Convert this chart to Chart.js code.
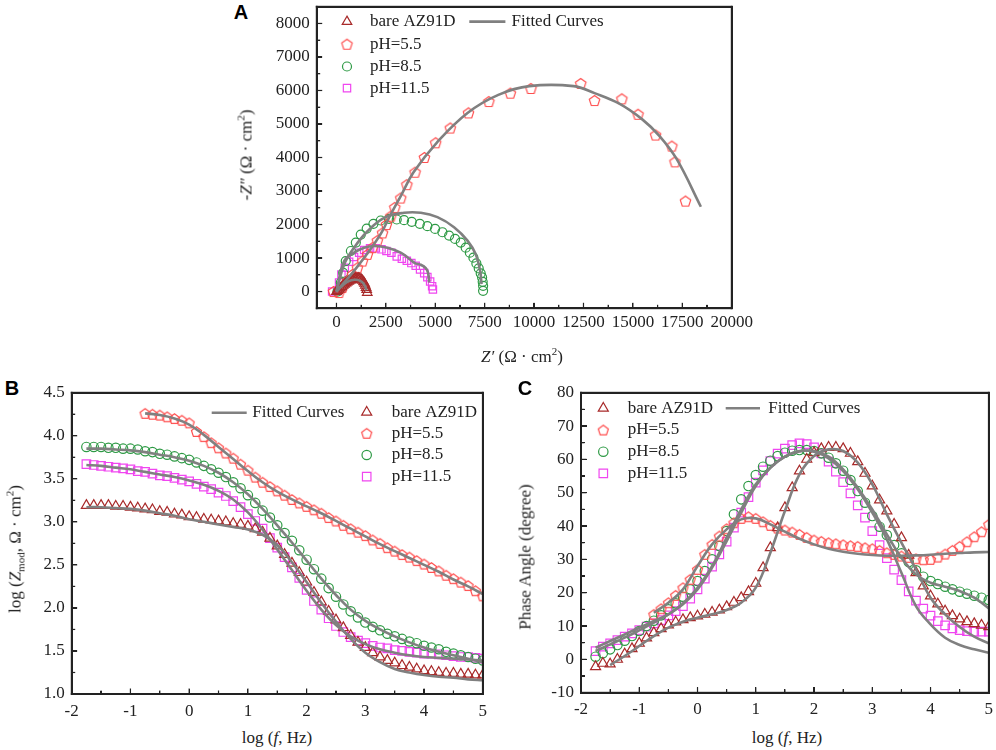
<!DOCTYPE html>
<html>
<head>
<meta charset="utf-8">
<script src="https://cdn.jsdelivr.net/npm/chart.js@4.4.1/dist/chart.umd.min.js"></script>
<style>
  body { margin: 0; background: #fff; width: 996px; height: 750px; position: relative; overflow: hidden; }
  canvas { position: absolute; }
  .lbl { position: absolute; font-family: "Liberation Serif", "Times New Roman", serif; font-size: 17px; color: #222;
         white-space: nowrap; transform: translate(-50%, -50%); line-height: 1; }
  .rot { transform: translate(-50%, -50%) rotate(-90deg); }
  .lbl sup, .lbl sub { font-size: 11px; line-height: 0; }
  .panel { position: absolute; font-family: "Liberation Sans", Arial, sans-serif; font-weight: bold; font-size: 20px;
           color: #000; transform: translate(-50%, -50%); line-height: 1; }
  .bar { position: absolute; background: #222; pointer-events: none; }
</style>
</head>
<body>
<canvas id="chartA" width="520" height="340" style="left:250px;top:0px"></canvas>
<canvas id="chartB" width="470" height="345" style="left:20px;top:380px"></canvas>
<canvas id="chartC" width="466" height="345" style="left:530px;top:380px"></canvas>

<div class="panel" style="left:241px;top:12px">A</div>
<div class="panel" style="left:12px;top:388px">B</div>
<div class="panel" style="left:525px;top:388px">C</div>

<div class="lbl rot" style="left:246px;top:155px"><i>-Z″</i> (Ω · cm<sup>2</sup>)</div>
<div class="lbl" style="left:522px;top:356px"><i>Z′</i> (Ω · cm<sup>2</sup>)</div>
<div class="lbl rot" style="left:15px;top:549px">log (<i>Z</i><sub>mod</sub>, Ω · cm<sup>2</sup>)</div>
<div class="lbl" style="left:277px;top:737px">log (<i>f</i>, Hz)</div>
<div class="lbl rot" style="left:525px;top:557px">Phase Angle (degree)</div>
<div class="lbl" style="left:787px;top:737px">log (<i>f</i>, Hz)</div>

<script>
// ---- Nyquist (panel A), ohm.cm2 ----
const nyqBareX = [0, 60, 130, 200, 270, 340, 410, 480, 550, 620, 690, 760, 830, 900, 970, 1040, 1110, 1180, 1250, 1310, 1370, 1420, 1460, 1500, 1530, 1560];
const nyqBareY = [0, 30, 65, 100, 140, 180, 215, 250, 280, 305, 330, 350, 370, 385, 395, 400, 398, 388, 365, 330, 290, 240, 180, 115, 55, -30];
const nyq55X = [-150, 130, 300, 560, 810, 1060, 1320, 1570, 1820, 2070, 2330, 2530, 2750, 2950, 3250, 3560, 3980, 4450, 5020, 5760, 6680, 7710, 8800, 9840, 12360, 13060, 14440, 15260, 16150, 16970, 17130, 17660];
const nyq55Y = [0, -30, 120, 320, 510, 710, 910, 1110, 1310, 1520, 1750, 2000, 2250, 2510, 2790, 3190, 3560, 4000, 4440, 4880, 5330, 5670, 5920, 6060, 6210, 5700, 5750, 5290, 4670, 4340, 3870, 2700];
const nyq85X = [50, 220, 340, 470, 730, 980, 1230, 1530, 1870, 2240, 2660, 3050, 3420, 3810, 4220, 4600, 4990, 5360, 5700, 6000, 6290, 6540, 6750, 6930, 7080, 7200, 7300, 7370, 7400, 7420, 7420];
const nyq85Y = [0, 270, 560, 910, 1210, 1460, 1700, 1880, 2020, 2120, 2170, 2150, 2130, 2080, 2020, 1950, 1870, 1770, 1670, 1570, 1460, 1310, 1160, 1010, 840, 690, 540, 420, 290, 170, 20];
const nyq115X = [-220, 50, 130, 250, 420, 640, 890, 1150, 1400, 1700, 1990, 2280, 2530, 2780, 3050, 3310, 3560, 3790, 4010, 4230, 4440, 4600, 4740, 4840, 4880];
const nyq115Y = [0, 20, 270, 510, 710, 890, 1030, 1160, 1240, 1290, 1290, 1260, 1210, 1160, 1050, 980, 920, 850, 770, 660, 550, 430, 300, 160, 60];

const fitBareX = [0, 250, 500, 750, 1000, 1200, 1350, 1450, 1520];
const fitBareY = [0, 150, 270, 340, 350, 320, 250, 150, 40];
const fit55X = [0, 1000, 1800, 2300, 2700, 3300, 3900, 5070, 6630, 8190, 9760, 12000, 13060, 14270, 15490, 16350, 17220, 18440];
const fit55Y = [0, 700, 1330, 1780, 2250, 2900, 3560, 4440, 5330, 5870, 6130, 6130, 5920, 5620, 5130, 4640, 3950, 2530];
const fit85X = [0, 390, 890, 1570, 2410, 3420, 4270, 5110, 5950, 6630, 7050, 7270, 7340];
const fit85Y = [0, 810, 1310, 1800, 2200, 2350, 2350, 2220, 1920, 1520, 1110, 610, 220];
const fit115X = [0, 390, 890, 1400, 1910, 2580, 3250, 3680, 3960, 4270, 4520, 4640, 4690];
const fit115Y = [0, 910, 1160, 1310, 1360, 1310, 1160, 980, 850, 800, 700, 550, 270];

// ---- Bode (panels B, C): log f grid ----
const logF = [-1.75, -1.625, -1.5, -1.375, -1.25, -1.125, -1.0, -0.875, -0.75, -0.625, -0.5, -0.375, -0.25, -0.125, 0,
  0.125, 0.25, 0.375, 0.5, 0.625, 0.75, 0.875, 1.0, 1.125, 1.25, 1.375, 1.5, 1.625, 1.75, 1.875, 2.0,
  2.125, 2.25, 2.375, 2.5, 2.625, 2.75, 2.875, 3.0, 3.125, 3.25, 3.375, 3.5, 3.625, 3.75, 3.875, 4.0,
  4.125, 4.25, 4.375, 4.5, 4.625, 4.75, 4.875, 5.0];
const logF55 = logF.slice(8); // pH 5.5 starts at about -0.75
const logFfit = [-1.75, -1.5, -1.25, -1.0, -0.75, -0.5, -0.25, 0, 0.25, 0.5, 0.75, 1.0, 1.25, 1.5, 1.75, 2.0,
  2.25, 2.5, 2.75, 3.0, 3.25, 3.5, 3.75, 4.0, 4.25, 4.5, 4.75, 5.0];

// log |Z|
const zBare = [3.19, 3.19, 3.19, 3.19, 3.18, 3.18, 3.17, 3.16, 3.15, 3.14, 3.12, 3.11, 3.09, 3.08, 3.06,
  3.05, 3.03, 3.02, 3.01, 3.00, 2.98, 2.97, 2.95, 2.92, 2.88, 2.81, 2.72, 2.62, 2.52, 2.41, 2.30,
  2.18, 2.07, 1.96, 1.86, 1.77, 1.68, 1.60, 1.54, 1.48, 1.43, 1.39, 1.36, 1.33, 1.31, 1.29, 1.27,
  1.26, 1.25, 1.24, 1.24, 1.23, 1.23, 1.22, 1.22];
const z55 = [4.26, 4.25, 4.24, 4.22, 4.20, 4.18, 4.15,
  4.05, 3.99, 3.92, 3.86, 3.80, 3.74, 3.67, 3.60, 3.52, 3.46, 3.41, 3.36, 3.31, 3.26, 3.22, 3.18,
  3.14, 3.10, 3.05, 3.01, 2.96, 2.92, 2.88, 2.84, 2.79, 2.75, 2.70, 2.66, 2.62, 2.59, 2.55, 2.51,
  2.47, 2.43, 2.38, 2.34, 2.30, 2.26, 2.20, 2.14];
const z85 = [3.87, 3.87, 3.87, 3.86, 3.86, 3.85, 3.85, 3.84, 3.82, 3.81, 3.79, 3.78, 3.76, 3.74, 3.72,
  3.69, 3.65, 3.61, 3.57, 3.52, 3.46, 3.39, 3.31, 3.22, 3.13, 3.05, 2.96, 2.87, 2.78, 2.67, 2.56,
  2.45, 2.34, 2.23, 2.13, 2.04, 1.96, 1.89, 1.83, 1.78, 1.74, 1.70, 1.67, 1.64, 1.61, 1.59, 1.56,
  1.54, 1.52, 1.49, 1.47, 1.45, 1.43, 1.41, 1.39];
const z115 = [3.67, 3.66, 3.65, 3.64, 3.63, 3.62, 3.61, 3.59, 3.58, 3.56, 3.54, 3.53, 3.51, 3.49, 3.47,
  3.44, 3.41, 3.38, 3.34, 3.30, 3.24, 3.17, 3.09, 3.01, 2.92, 2.81, 2.70, 2.59, 2.47, 2.35, 2.21,
  2.08, 1.98, 1.88, 1.79, 1.72, 1.66, 1.62, 1.59, 1.56, 1.54, 1.53, 1.51, 1.50, 1.49, 1.48, 1.47,
  1.47, 1.46, 1.45, 1.44, 1.43, 1.43, 1.42, 1.41];
const zFitBare = [3.17, 3.17, 3.16, 3.15, 3.13, 3.10, 3.07, 3.03, 3.00, 2.97, 2.94, 2.91, 2.85, 2.73, 2.53, 2.30,
  2.06, 1.84, 1.64, 1.48, 1.37, 1.29, 1.25, 1.22, 1.20, 1.19, 1.17, 1.16];
const zFit55 = [4.26, 4.24, 4.20, 4.13, 4.01, 3.87, 3.73, 3.59, 3.46, 3.35, 3.26, 3.18,
  3.10, 3.01, 2.92, 2.83, 2.74, 2.66, 2.58, 2.50, 2.42, 2.33, 2.25, 2.16];
const zFit85 = [3.85, 3.85, 3.84, 3.83, 3.81, 3.78, 3.75, 3.71, 3.65, 3.57, 3.46, 3.32, 3.15, 2.96, 2.76, 2.55,
  2.34, 2.15, 1.98, 1.85, 1.75, 1.67, 1.60, 1.54, 1.49, 1.45, 1.41, 1.37];
const zFit115 = [3.66, 3.65, 3.63, 3.61, 3.58, 3.55, 3.52, 3.48, 3.43, 3.36, 3.26, 3.11, 2.91, 2.68, 2.44, 2.20,
  1.98, 1.80, 1.67, 1.58, 1.52, 1.48, 1.45, 1.43, 1.42, 1.41, 1.40, 1.39];

// phase angle, degree
const phBare = [-2.2, -1.2, -1.4, 0.0, 1.6, 3.2, 4.8, 6.4, 8.0, 9.2, 10.3, 11.2, 11.9, 12.5, 13.0,
  13.5, 14.1, 14.8, 15.8, 17.1, 18.5, 20.3, 22.8, 27.5, 33.5, 39.5, 45.5, 51.5, 56.5, 60.0, 62.0,
  63.2, 63.6, 63.6, 63.2, 61.8, 59.3, 55.8, 52.0, 47.8, 44.5, 40.5, 36.5, 31.2, 26.0, 22.0, 19.0,
  16.6, 14.5, 13.1, 12.1, 11.3, 10.7, 10.2, 9.8];
const ph55 = [13.5, 15.2, 17.0, 19.2, 21.5, 24.0, 27.0,
  31.5, 34.5, 37.0, 39.2, 41.0, 42.3, 42.8, 42.3, 41.3, 40.2, 39.4, 38.8, 38.2, 37.5, 36.6, 35.8,
  35.4, 35.0, 34.7, 34.4, 34.1, 33.9, 33.5, 33.2, 32.7, 32.0, 31.5, 31.0, 30.6, 30.2, 29.9, 30.0,
  30.7, 31.6, 32.7, 33.9, 35.3, 36.8, 38.3, 40.5];
const ph85 = [0.8, 1.8, 3.0, 4.3, 5.6, 7.0, 8.5, 10.0, 11.6, 13.2, 15.0, 16.8, 18.8, 21.0, 23.5,
  26.5, 30.0, 34.0, 38.5, 43.5, 48.0, 52.0, 55.3, 57.8, 59.6, 61.0, 62.0, 62.6, 62.8, 62.8, 62.5,
  61.8, 60.5, 58.8, 56.6, 53.8, 50.5, 47.0, 43.0, 39.8, 37.3, 34.3, 31.8, 29.2, 26.7, 24.8, 23.5,
  22.6, 21.8, 21.0, 20.3, 19.7, 19.1, 18.5, 17.8];
const ph115 = [2.5, 3.8, 4.8, 5.8, 6.8, 7.8, 8.8, 9.8, 10.8, 11.8, 13.2, 14.5, 16.0, 18.2, 21.0,
  24.2, 27.8, 31.5, 35.3, 39.5, 44.0, 48.7, 53.0, 56.7, 59.5, 61.7, 63.2, 64.3, 64.8, 64.6, 63.6,
  61.8, 59.3, 56.3, 53.2, 49.8, 46.2, 42.5, 38.5, 34.3, 30.4, 26.9, 23.8, 20.4, 17.6, 15.2, 13.1,
  11.5, 10.2, 9.3, 8.8, 8.5, 8.3, 8.3, 8.3];
const phFitBare = [-1.7, 1.0, 4.0, 7.0, 9.5, 11.3, 12.5, 13.5, 14.8, 17.0, 21.5, 32.0, 44.5, 55.5, 61.0,
  63.0, 62.5, 59.0, 52.5, 43.5, 35.0, 27.0, 18.5, 13.5, 9.7, 6.8, 4.8]; // from log f = -1.5
const phFit55 = [14.0, 17.0, 21.0, 28.0, 34.5, 39.0, 42.0, 42.3, 40.5, 38.3, 36.2, 34.5,
  33.2, 32.3, 31.7, 31.3, 31.1, 31.1, 31.2, 31.4, 31.7, 31.9, 32.1, 32.2];
const phFit85 = [2.5, 4.5, 6.5, 8.7, 11.0, 13.5, 16.8, 21.5, 28.0, 36.5, 45.0, 52.5, 57.5, 60.8, 62.4, 62.5,
  60.8, 57.0, 51.5, 45.0, 37.5, 30.5, 25.5, 23.0, 21.8, 20.5, 18.5, 15.3];
const phFit115 = [3.5, 5.5, 7.5, 9.5, 11.5, 13.5, 16.5, 21.0, 27.5, 35.5, 44.0, 52.0, 57.5, 60.8, 62.5, 62.3,
  60.3, 56.5, 51.0, 44.0, 36.0, 26.0, 16.0, 10.5, 6.5, 4.3, 3.0, 2.0];

// ticks (labelled ones; minor ticks sit half-way between)
const nyqXTicks = [0, 2500, 5000, 7500, 10000, 12500, 15000, 17500, 20000];
const nyqYTicks = [0, 1000, 2000, 3000, 4000, 5000, 6000, 7000, 8000];
const freqTicks = [-2, -1, 0, 1, 2, 3, 4, 5];
const modTicks = [1.0, 1.5, 2.0, 2.5, 3.0, 3.5, 4.0, 4.5];
const phaseTicks = [-10, 0, 10, 20, 30, 40, 50, 60, 70, 80];

const seriesNames = ['bare AZ91D', 'pH=5.5', 'pH=8.5', 'pH=11.5'];
const colors = ['#a82a2a', '#ff4f4f', '#2e9a45', '#f046f0'];
const fitColor = '#808080';
const axisColor = '#222';
const serif = '"Liberation Serif", "Times New Roman", serif';

function pts(xs, ys) { return ys.map((y, i) => ({ x: xs[i], y: y })); }

function pentagon(color, r) {
  const s = Math.ceil(2 * r + 4);
  const c = document.createElement('canvas');
  c.width = s; c.height = s;
  const g = c.getContext('2d');
  g.strokeStyle = color; g.lineWidth = 1.2;
  g.beginPath();
  for (let k = 0; k < 5; k++) {
    const a = -Math.PI / 2 + k * 2 * Math.PI / 5;
    const px = s / 2 + r * Math.cos(a), py = s / 2 + r * Math.sin(a) + 0.1 * r;
    if (k) g.lineTo(px, py); else g.moveTo(px, py);
  }
  g.closePath(); g.stroke();
  return c;
}

// marker styles per panel: [triangle, pentagon, circle, rect] radii
function markers(rs) {
  return [
    { style: 'triangle', r: rs[0] },
    { style: pentagon(colors[1], rs[1]), r: rs[1] },
    { style: 'circle', r: rs[2] },
    { style: 'rect', r: rs[3] }
  ];
}

function drawMark(ctx, m, color, x, y) {
  ctx.save();
  ctx.strokeStyle = color; ctx.lineWidth = 1.2;
  if (typeof m.style !== 'string') {
    ctx.drawImage(m.style, x - m.style.width / 2, y - m.style.height / 2);
  } else {
    ctx.beginPath();
    if (m.style === 'circle') ctx.arc(x, y, m.r, 0, Math.PI * 2);
    else if (m.style === 'rect') { const h = m.r * Math.SQRT1_2; ctx.rect(x - h, y - h, 2 * h, 2 * h); }
    else {
      for (let k = 0; k < 3; k++) {
        const a = k * 2 * Math.PI / 3;
        const px = x + Math.sin(a) * m.r, py = y - Math.cos(a) * m.r;
        if (k) ctx.lineTo(px, py); else ctx.moveTo(px, py);
      }
      ctx.closePath();
    }
    ctx.stroke();
  }
  ctx.restore();
}

// list of filled bars (box edges and inward ticks) in canvas pixels, from the chart scales
function frameBars(chart) {
  const sx = chart.scales.x, sy = chart.scales.y;
  const L = sx.getPixelForValue(sx.min), R = sx.getPixelForValue(sx.max);
  const T = sy.getPixelForValue(sy.max), B = sy.getPixelForValue(sy.min);
  const w = 1.8, t = 1.2;
  const bars = [
    [L - w / 2, T - w / 2, R - L + w, w], [L - w / 2, B - w / 2, R - L + w, w],
    [L - w / 2, T - w / 2, w, B - T + w], [R - w / 2, T - w / 2, w, B - T + w]
  ];
  const add = (scale, horizontal) => {
    const vals = scale.ticks.map(k => k.value);
    const step = vals[1] - vals[0];
    const minors = [];
    for (let i = 0; i < vals.length - 1; i++) minors.push((vals[i] + vals[i + 1]) / 2);
    if (vals[0] - step / 2 > scale.min) minors.push(vals[0] - step / 2);
    if (vals[vals.length - 1] + step / 2 < scale.max) minors.push(vals[vals.length - 1] + step / 2);
    const mark = (v, len) => {
      const p = scale.getPixelForValue(v);
      if (horizontal) bars.push([p - t / 2, B - len, t, len]);
      else bars.push([L, p - t / 2, len, t]);
    };
    vals.forEach(v => mark(v, 5.5));
    minors.forEach(v => mark(v, 3.5));
  };
  add(sx, true);
  add(sy, false);
  return bars;
}

const legends = {};
const decorPlugin = {
  id: 'decor',
  afterDraw(chart) {
    const ctx = chart.ctx;
    const bars = frameBars(chart);
    ctx.save();
    ctx.fillStyle = axisColor;
    bars.forEach(b => ctx.fillRect(b[0], b[1], b[2], b[3]));
    ctx.restore();

    const lg = legends[chart.canvas.id];
    ctx.save();
    ctx.font = '17px ' + serif;
    ctx.fillStyle = '#222';
    ctx.textBaseline = 'middle';
    lg.rows.forEach(row => {
      drawMark(ctx, row.mark, row.color, row.mx, row.y);
      ctx.fillText(row.text, row.tx, row.y);
    });
    const f = lg.fit;
    ctx.strokeStyle = fitColor; ctx.lineWidth = 2.6;
    ctx.beginPath(); ctx.moveTo(f.x1, f.y); ctx.lineTo(f.x2, f.y); ctx.stroke();
    ctx.fillText('Fitted Curves', f.tx, f.y);
    ctx.restore();

    // same box and ticks repeated as page elements, once per chart
    if (!chart.$bars) {
      const cv = chart.canvas;
      chart.$bars = bars.map(b => {
        const d = document.createElement('div');
        d.className = 'bar';
        d.style.left = (cv.offsetLeft + b[0]) + 'px';
        d.style.top = (cv.offsetTop + b[1]) + 'px';
        d.style.width = b[2] + 'px';
        d.style.height = b[3] + 'px';
        document.body.appendChild(d);
        return d;
      });
    }
  }
};

function axis(min, max, tickVals, fmt, size, horizontal, pad) {
  return {
    type: 'linear', min: min, max: max,
    grid: { display: false, drawTicks: false },
    border: { display: false },
    ticks: { autoSkip: false, maxRotation: 0, padding: pad, color: '#222',
             font: { family: serif, size: 17 }, callback: fmt },
    afterBuildTicks: s => { s.ticks = tickVals.map(v => ({ value: v })); },
    afterFit: s => {
      if (horizontal) s.height = size; else s.width = size;
      s.paddingLeft = 0; s.paddingRight = 0; s.paddingTop = 0; s.paddingBottom = 0;
    }
  };
}

function dataSet(i, data, m) {
  return {
    label: seriesNames[i], data: data, showLine: false, order: 2,
    pointStyle: m.style, pointRadius: m.r, pointBorderWidth: 1.2,
    borderColor: colors[i], backgroundColor: 'rgba(0,0,0,0)'
  };
}
function fitSet(data) {
  return {
    label: 'Fitted Curves', data: data, showLine: true, order: 0, tension: 0.4,
    pointRadius: 0, borderColor: fitColor, borderWidth: 2.6, backgroundColor: 'rgba(0,0,0,0)'
  };
}

function legendRows(ms, mx, tx, ys) {
  return ms.map((m, i) => ({ mark: m, color: colors[i], mx: mx, tx: tx, y: ys[i], text: seriesNames[i] }));
}

function makeChart(id, datasets, xAxis, yAxis, padding, legend) {
  legends[id] = legend;
  return new Chart(document.getElementById(id), {
    type: 'scatter',
    data: { datasets: datasets },
    options: {
      responsive: false, animation: false, events: [],
      layout: { padding: padding },
      scales: { x: xAxis, y: yAxis },
      plugins: { legend: { display: false }, tooltip: { enabled: false } }
    },
    plugins: [decorPlugin]
  });
}

// Panel A
const mA = markers([5.5, 5.5, 4.5, 5.2]);
makeChart('chartA', [
  fitSet(pts(fitBareX, fitBareY)), fitSet(pts(fit55X, fit55Y)),
  fitSet(pts(fit85X, fit85Y)), fitSet(pts(fit115X, fit115Y)),
  dataSet(0, pts(nyqBareX, nyqBareY), mA[0]), dataSet(1, pts(nyq55X, nyq55Y), mA[1]),
  dataSet(2, pts(nyq85X, nyq85Y), mA[2]), dataSet(3, pts(nyq115X, nyq115Y), mA[3])
],
  axis(-1000, 20000, nyqXTicks, v => String(v), 31.7, true, 4),
  axis(-500, 8500, nyqYTicks, v => String(v), 66.7, false, 7),
  { left: 0, right: 38.3, top: 3.4, bottom: 0 },
  { rows: legendRows(mA, 97, 120, [21.6, 44.2, 66.5, 88.1]), fit: { x1: 219.3, x2: 255.4, tx: 261.5, y: 21.6 } });

// Panel B
const mB = markers([5.8, 5.3, 4.7, 6.0]);
makeChart('chartB', [
  fitSet(pts(logFfit, zFitBare)), fitSet(pts(logFfit.slice(4), zFit55)),
  fitSet(pts(logFfit, zFit85)), fitSet(pts(logFfit, zFit115)),
  dataSet(0, pts(logF, zBare), mB[0]), dataSet(1, pts(logF55, z55), mB[1]),
  dataSet(2, pts(logF, z85), mB[2]), dataSet(3, pts(logF, z115), mB[3])
],
  axis(-2, 5, freqTicks, v => String(v), 31, true, 7),
  axis(1, 4.5, modTicks, v => v.toFixed(1), 51.7, false, 7),
  { left: 0, right: 6.7, top: 12.7, bottom: 0 },
  { rows: legendRows(mB, 346.7, 371.7, [32.3, 53.3, 75, 96.7]), fit: { x1: 191.7, x2: 226.7, tx: 232.3, y: 32.7 } });

// Panel C
const mC = markers([5.8, 5.3, 4.7, 6.0]);
makeChart('chartC', [
  fitSet(pts(logFfit.slice(1), phFitBare)), fitSet(pts(logFfit.slice(4), phFit55)),
  fitSet(pts(logFfit, phFit85)), fitSet(pts(logFfit, phFit115)),
  dataSet(0, pts(logF, phBare), mC[0]), dataSet(1, pts(logF55, ph55), mC[1]),
  dataSet(2, pts(logF, ph85), mC[2]), dataSet(3, pts(logF, ph115), mC[3])
],
  axis(-2, 5, freqTicks, v => String(v), 32.3, true, 7),
  axis(-10, 80, phaseTicks, v => String(v), 51, false, 7),
  { left: 0, right: 6, top: 12.7, bottom: 0 },
  { rows: legendRows(mC, 73.3, 97.7, [28.3, 50, 71.7, 93.3]), fit: { x1: 195.7, x2: 230, tx: 238.3, y: 28.3 } });
</script>
</body>
</html>
